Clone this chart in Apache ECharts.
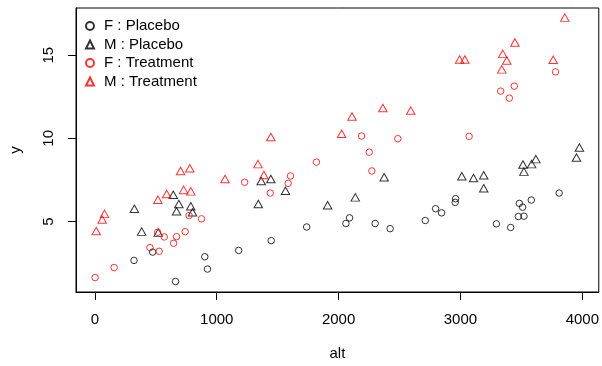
<!DOCTYPE html>
<html>
<head>
<meta charset="utf-8">
<script src="https://cdn.jsdelivr.net/npm/echarts@6/dist/echarts.min.js"></script>
<style>
  html, body { margin: 0; padding: 0; background: #fff; }
  #chart { width: 602px; height: 366px; }
</style>
</head>
<body>
<div id="chart"></div>
<script>
// values
const fPlaceboAlt = [321, 474, 662, 902, 924, 1180, 1447, 1738, 2060, 2090, 2300, 2423, 2711, 2796, 2845, 2957, 2960, 3295, 3412, 3475, 3483, 3510, 3521, 3581, 3810];
const fPlaceboY = [2.66, 3.16, 1.39, 2.88, 2.14, 3.26, 3.85, 4.67, 4.88, 5.22, 4.88, 4.57, 5.06, 5.77, 5.52, 6.15, 6.37, 4.86, 4.64, 5.3, 6.09, 5.86, 5.32, 6.29, 6.71];

const mPlaceboAlt = [324, 384, 520, 643, 670, 689, 787, 801, 1341, 1365, 1444, 1564, 1910, 2137, 2374, 3011, 3107, 3191, 3191, 3513, 3521, 3584, 3619, 3952, 3976];
const mPlaceboY = [5.77, 4.39, 4.33, 6.61, 5.62, 6.05, 5.92, 5.56, 6.05, 7.44, 7.56, 6.85, 5.98, 6.45, 7.66, 7.72, 7.62, 7.78, 7.0, 8.43, 8.0, 8.45, 8.75, 8.85, 9.45];

const fTreatAlt = [2, 158, 452, 515, 528, 569, 646, 670, 741, 773, 875, 1229, 1439, 1586, 1605, 1818, 2188, 2251, 2273, 2486, 3071, 3330, 3401, 3442, 3780];
const fTreatY = [1.63, 2.23, 3.43, 4.35, 3.21, 4.07, 3.69, 4.09, 4.39, 5.36, 5.16, 7.36, 6.71, 7.3, 7.74, 8.57, 10.14, 9.17, 8.04, 9.98, 10.12, 12.84, 12.42, 13.14, 14.0];

const mTreatAlt = [11, 60, 79, 517, 589, 703, 728, 779, 787, 1068, 1338, 1387, 1444, 2025, 2110, 2363, 2592, 2993, 3036, 3339, 3347, 3380, 3447, 3761, 3856];
const mTreatY = [4.43, 5.12, 5.46, 6.31, 6.65, 8.04, 6.9, 8.2, 6.81, 7.56, 8.45, 7.8, 10.08, 10.28, 11.31, 11.83, 11.67, 14.74, 14.74, 14.15, 15.08, 14.68, 15.77, 14.73, 17.26];

const groupNames = ["F : Placebo", "M : Placebo", "F : Treatment", "M : Treatment"];
const xTicks = [0, 1000, 2000, 3000, 4000];
const yTicks = [5, 10, 15];

const font = "'Liberation Sans', Arial, sans-serif";

function pairs(xs, ys) {
  return xs.map((x, i) => [x, ys[i]]);
}

function makeSeries(name, xs, ys, color, shape) {
  return {
    name: name,
    type: "scatter",
    data: pairs(xs, ys),
    symbol: shape,
    symbolSize: shape === "circle" ? 6.5 : [8.5, 7.5],
    itemStyle: { color: "transparent", borderColor: color, borderWidth: 1 },
    emphasis: { disabled: true },
  };
}

const chart = echarts.init(document.getElementById("chart"));
chart.setOption({
  animation: false,
  grid: {
    left: 76, right: 2, top: 8, bottom: 71,
    show: true, borderColor: "#000", borderWidth: 1, backgroundColor: "transparent",
  },
  legend: {
    orient: "vertical",
    left: 80, top: 13.5,
    itemWidth: 8, itemHeight: 8, itemGap: 3.5,
    data: [
      { name: groupNames[0], icon: "circle" },
      { name: groupNames[1], icon: "triangle" },
      { name: groupNames[2], icon: "circle" },
      { name: groupNames[3], icon: "triangle" },
    ],
    textStyle: { fontFamily: font, fontSize: 15, lineHeight: 15, color: "#000", padding: [0, 0, 0, 5] },
    selectedMode: false,
  },
  xAxis: {
    type: "value",
    min: -155, max: 4135,
    name: "alt", nameLocation: "middle", nameGap: 54,
    nameTextStyle: { fontFamily: font, fontSize: 15, color: "#000" },
    axisLine: { show: true, onZero: false, lineStyle: { color: "#000", width: 1 } },
    splitLine: { show: false },
    axisTick: { show: true, inside: false, length: 8, customValues: xTicks, lineStyle: { color: "#000" } },
    axisLabel: {
      customValues: xTicks, margin: 20, fontFamily: font, fontSize: 15, color: "#000",
      formatter: (v) => String(v),
    },
  },
  yAxis: {
    type: "value",
    min: 0.76, max: 17.84,
    name: "y", nameLocation: "middle", nameGap: 53,
    nameTextStyle: { fontFamily: font, fontSize: 15, color: "#000" },
    axisLine: { show: true, onZero: false, lineStyle: { color: "#000", width: 1 } },
    splitLine: { show: false },
    axisTick: { show: true, inside: false, length: 8, customValues: yTicks, lineStyle: { color: "#000" } },
    axisLabel: {
      customValues: yTicks, rotate: 90, margin: 20, fontFamily: font, fontSize: 15, color: "#000",
      formatter: (v) => String(v),
    },
  },
  series: [
    makeSeries(groupNames[0], fPlaceboAlt, fPlaceboY, "#000", "circle"),
    makeSeries(groupNames[1], mPlaceboAlt, mPlaceboY, "#000", "triangle"),
    makeSeries(groupNames[2], fTreatAlt, fTreatY, "#ff0000", "circle"),
    makeSeries(groupNames[3], mTreatAlt, mTreatY, "#ff0000", "triangle"),
  ],
});
</script>
</body>
</html>
